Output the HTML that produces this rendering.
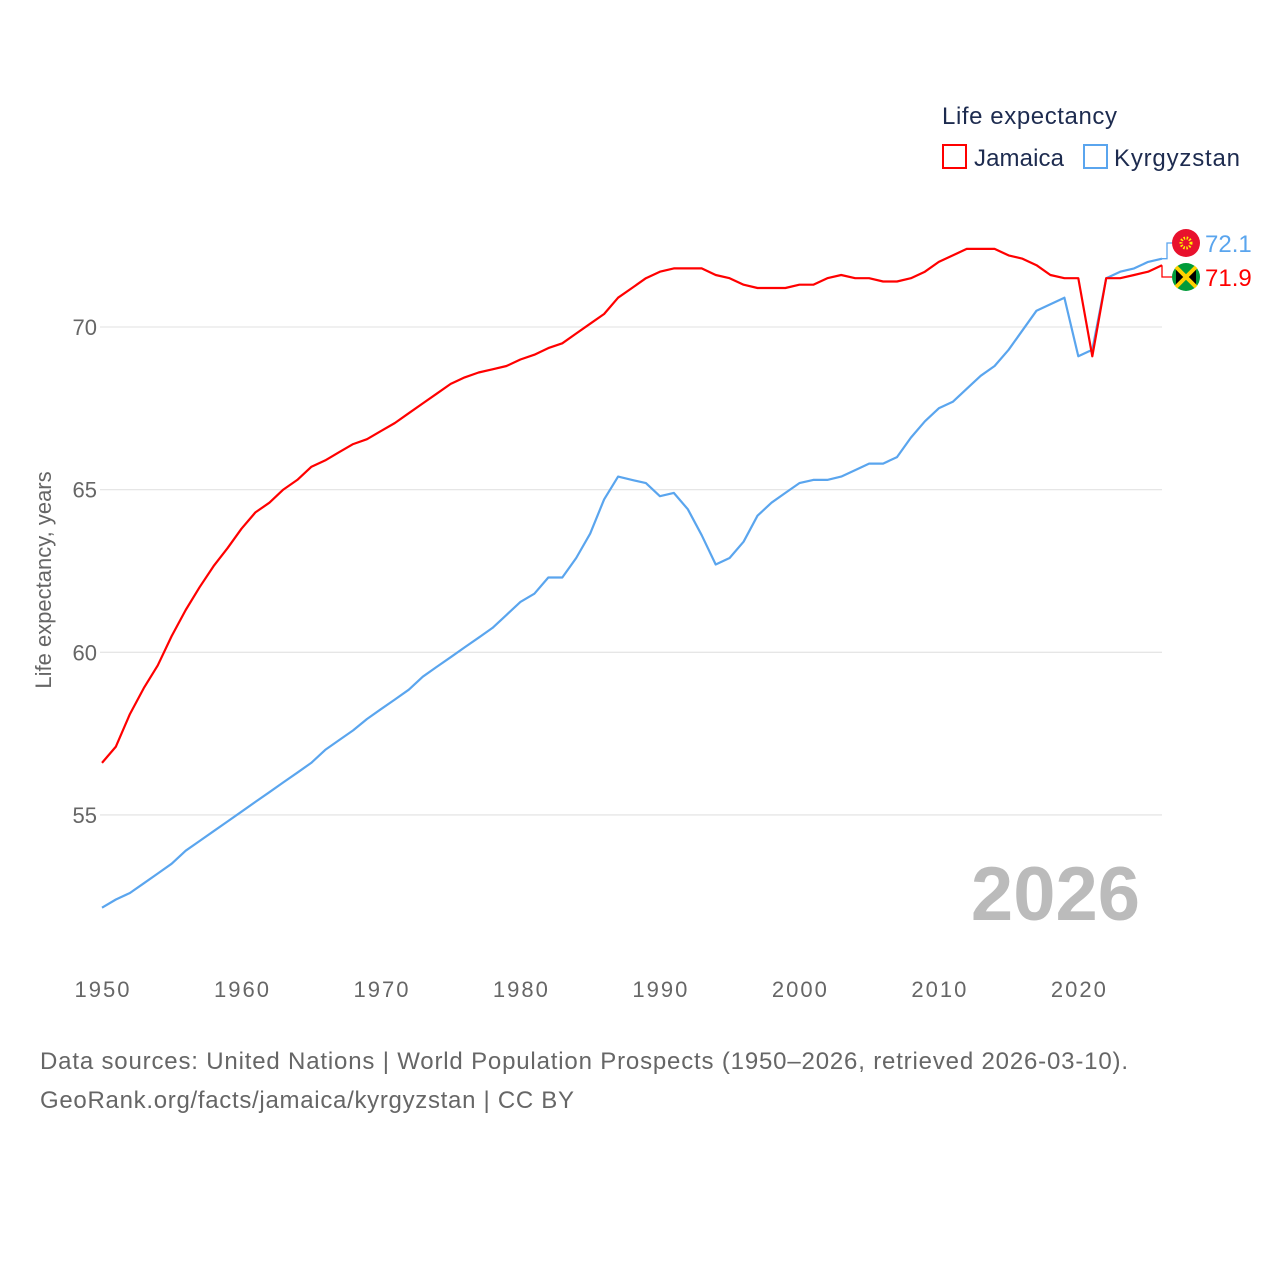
<!DOCTYPE html>
<html><head><meta charset="utf-8">
<style>
body{margin:0;background:#fff;}
svg{display:block;font-family:"Liberation Sans",sans-serif;}
</style></head>
<body>
<svg id="chart" width="1280" height="1280" viewBox="0 0 1280 1280" xmlns="http://www.w3.org/2000/svg">
<text x="942" y="124" font-size="24" fill="#1d2b4f" textLength="175">Life expectancy</text>
<g>
<rect x="943" y="145" width="23" height="23" fill="none" stroke="#ff0000" stroke-width="2"/>
<text x="974" y="166" font-size="24" fill="#1d2b4f" textLength="90">Jamaica</text></g>
<g>
<rect x="1084" y="145" width="23" height="23" fill="none" stroke="#5aa5ee" stroke-width="2"/>
<text x="1114" y="166" font-size="24" fill="#1d2b4f" textLength="126">Kyrgyzstan</text></g>
<g id="grid"></g><g id="yticks"></g><g id="xticks"></g>
<text transform="translate(51,580) rotate(-90)" text-anchor="middle" font-size="22" fill="#666">Life expectancy, years</text>
<text x="1140" y="920" text-anchor="end" font-size="76" font-weight="bold" fill="#bbbbbb">2026</text>
<g id="series"></g>
<text x="40" y="1069" font-size="24" fill="#666" textLength="1088">Data sources: United Nations | World Population Prospects (1950–2026, retrieved 2026-03-10).</text>
<text x="40" y="1108" font-size="24" fill="#666" textLength="534">GeoRank.org/facts/jamaica/kyrgyzstan | CC BY</text>
</svg>
<script>
const years=[];for(let y=1950;y<=2026;y++)years.push(y);
const jamaica=[56.6,57.1,58.1,58.9,59.6,60.5,61.3,62.0,62.65,63.2,63.8,64.3,64.6,65.0,65.3,65.7,65.9,66.15,66.4,66.55,66.8,67.05,67.35,67.65,67.95,68.25,68.45,68.6,68.7,68.8,69.0,69.15,69.35,69.5,69.8,70.1,70.4,70.9,71.2,71.5,71.7,71.8,71.8,71.8,71.6,71.5,71.3,71.2,71.2,71.2,71.3,71.3,71.5,71.6,71.5,71.5,71.4,71.4,71.5,71.7,72.0,72.2,72.4,72.4,72.4,72.2,72.1,71.9,71.6,71.5,71.5,69.1,71.5,71.5,71.6,71.7,71.9];
const kyrgyzstan=[52.15,52.4,52.6,52.9,53.2,53.5,53.9,54.2,54.5,54.8,55.1,55.4,55.7,56.0,56.3,56.6,57.0,57.3,57.6,57.95,58.25,58.55,58.85,59.25,59.55,59.85,60.15,60.45,60.75,61.15,61.55,61.8,62.3,62.3,62.9,63.65,64.7,65.4,65.3,65.2,64.8,64.9,64.4,63.6,62.7,62.9,63.4,64.2,64.6,64.9,65.2,65.3,65.3,65.4,65.6,65.8,65.8,66.0,66.6,67.1,67.5,67.7,68.1,68.5,68.8,69.3,69.9,70.5,70.7,70.9,69.1,69.3,71.5,71.7,71.8,72.0,72.1];
const yTicks=[55,60,65,70];
const xTicks=[1950,1960,1970,1980,1990,2000,2010,2020];
const NS="http://www.w3.org/2000/svg";
const X=y=>102+(y-1950)*(1162-102)/76;
const Y=v=>327+(70-v)*32.53;
function mk(tag,attrs,parent){const e=document.createElementNS(NS,tag);for(const k in attrs)e.setAttribute(k,attrs[k]);parent.appendChild(e);return e;}
const grid=document.getElementById('grid'),yt=document.getElementById('yticks'),xt=document.getElementById('xticks'),ser=document.getElementById('series');
yTicks.forEach(t=>{
 const l=mk('line',{x1:100,x2:1162,y1:Y(t),y2:Y(t),stroke:'#e6e6e6','stroke-width':1.3},grid);
 
 
 const tx=mk('text',{x:97,y:Y(t)+8,'text-anchor':'end','font-size':22,fill:'#666'},yt);tx.textContent=t;
 
 
});
xTicks.forEach(t=>{
 const tx=mk('text',{x:X(t),y:997,'text-anchor':'middle','font-size':22,fill:'#666',textLength:55},xt);tx.textContent=t;
 
 
});
function line(vals,color,name){
 const d=vals.map((v,i)=>(i?'L':'M')+X(years[i]).toFixed(1)+','+Y(v).toFixed(1)).join('');
 const p=mk('path',{d:d,fill:'none',stroke:color,'stroke-width':2.2,'stroke-linejoin':'round'},ser);
 
 
}
line(kyrgyzstan,'#5aa5ee','kyrgyzstan-line');
line(jamaica,'#ff0000','jamaica-line');
const kv=kyrgyzstan[kyrgyzstan.length-1],jv=jamaica[jamaica.length-1];
const kl=243,jl=277;
const kc=mk('path',{d:`M${X(2026)},${Y(kv)} H1167 V${kl} H1172`,fill:'none',stroke:'#5aa5ee','stroke-width':1.3},ser);


const jc=mk('path',{d:`M${X(2026)},${Y(jv)} H1162 V${jl} H1172`,fill:'none',stroke:'#ff0000','stroke-width':1.3},ser);


const kf=mk('g',{},ser);


mk('circle',{cx:1186,cy:kl,r:14,fill:'#e8112d'},kf);
mk('circle',{cx:1186,cy:kl,r:5,fill:'none',stroke:'#ffef00','stroke-width':3,'stroke-dasharray':'1.5 1.5'},kf);
const jf=mk('g',{},ser);


mk('circle',{cx:1186,cy:jl,r:14,fill:'#009b3a'},jf);
mk('path',{d:`M1176,${jl-10}L1186,${jl}L1176,${jl+10}Z M1196,${jl-10}L1186,${jl}L1196,${jl+10}Z`,fill:'#000'},jf);
mk('path',{d:`M1176,${jl-10}L1196,${jl+10}M1196,${jl-10}L1176,${jl+10}`,stroke:'#fed100','stroke-width':4},jf);
const kt=mk('text',{x:1205,y:kl+9,'font-size':24,fill:'#5aa5ee'},ser);kt.textContent=kv.toFixed(1);


const jt=mk('text',{x:1205,y:jl+9,'font-size':24,fill:'#ff0000'},ser);jt.textContent=jv.toFixed(1);


</script>
</body></html>
